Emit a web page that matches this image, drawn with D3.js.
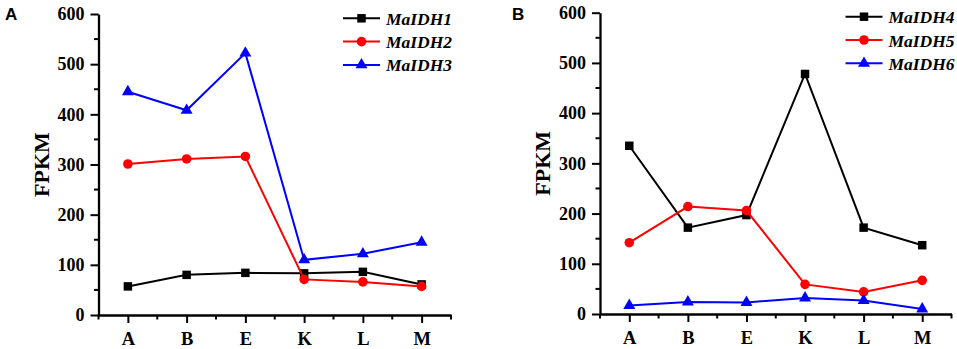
<!DOCTYPE html>
<html>
<head>
<meta charset="utf-8">
<script src="https://cdn.jsdelivr.net/npm/d3@7"></script>
<style>
  body { margin: 0; background: #fff; }
  svg { display: block; }
  text { font-family: "Liberation Serif", "Times New Roman", serif; font-weight: bold; }
</style>
</head>
<body>
<div id="chart"></div>
<script>
const categories = ["A", "B", "E", "K", "L", "M"];
const yTicks = [0, 100, 200, 300, 400, 500, 600];

// panel A
const maIDH1 = [57, 80, 84, 83, 86, 61];
const maIDH2 = [301, 311, 316, 71, 66, 57];
const maIDH3 = [445, 408, 522, 110, 122, 145];

// panel B
const maIDH4 = [335, 172, 197, 478, 172, 137];
const maIDH5 = [142, 214, 206, 59, 44, 67];
const maIDH6 = [17, 24, 23, 32, 27, 10];

const seriesStyle = [
  { color: "#000000", symbol: d3.symbolSquare, size: 72 },
  { color: "#ff0000", symbol: d3.symbolCircle, size: 72 },
  { color: "#0000ff", symbol: d3.symbolTriangle, size: 62 }
];

const serif = "'Liberation Serif', 'Times New Roman', serif";

const svg = d3.select("#chart").append("svg")
  .attr("width", 957)
  .attr("height", 349);

function styleText(sel, size) {
  sel.attr("font-size", size)
    .attr("font-family", serif)
    .style("font-family", serif)
    .style("font-weight", "bold");
}

function drawPanel(panel) {
  const { label, left, right, top, bottom, series, legendX, legendY } = panel;

  const x = d3.scaleLinear().domain([-0.5, categories.length - 0.5]).range([left, right]);
  const y = d3.scaleLinear().domain([0, 600]).range([bottom, top]);

  const g = svg.append("g");

  // minor ticks
  const xMinor = d3.range(-0.5, categories.length, 1);
  g.selectAll(".xminor").data(xMinor).enter().append("line")
    .attr("x1", d => x(d)).attr("x2", d => x(d))
    .attr("y1", bottom).attr("y2", bottom + 4.5)
    .attr("stroke", "#000").attr("stroke-width", 2);
  const yMinor = d3.range(50, 600, 100);
  g.selectAll(".yminor").data(yMinor).enter().append("line")
    .attr("x1", left).attr("x2", left - 4.5)
    .attr("y1", d => y(d)).attr("y2", d => y(d))
    .attr("stroke", "#000").attr("stroke-width", 2);

  // X axis
  const xAxis = g.append("g")
    .attr("transform", `translate(0,${bottom})`)
    .call(d3.axisBottom(x)
      .tickValues(d3.range(categories.length))
      .tickFormat(i => categories[i])
      .tickSize(8).tickPadding(9).tickSizeOuter(0))
    .attr("font-family", serif);
  xAxis.select(".domain").attr("stroke-width", 2.3);
  xAxis.selectAll(".tick line").attr("stroke-width", 2);
  styleText(xAxis.selectAll("text"), 18.5);

  // Y axis
  const yAxis = g.append("g")
    .attr("transform", `translate(${left},0)`)
    .call(d3.axisLeft(y).tickValues(yTicks).tickSize(8).tickPadding(6).tickSizeOuter(0))
    .attr("font-family", serif);
  yAxis.select(".domain").attr("stroke-width", 2.3);
  yAxis.selectAll(".tick line").attr("stroke-width", 2);
  styleText(yAxis.selectAll("text"), 18);

  // Y label
  g.append("text")
    .attr("transform", `translate(${left - 50},${(top + bottom) / 2}) rotate(-90)`)
    .attr("text-anchor", "middle")
    .attr("font-size", 22)
    .text("FPKM");

  // panel letter
  svg.append("text")
    .attr("x", panel.letterX).attr("y", 20)
    .style("font-family", "'Liberation Sans', Arial, sans-serif")
    .style("font-weight", "bold")
    .attr("font-size", 17)
    .text(label);

  const line = d3.line().x((d, i) => x(i)).y(d => y(d));

  series.forEach((s, k) => {
    const st = seriesStyle[k];
    g.append("path")
      .datum(s.values)
      .attr("fill", "none")
      .attr("stroke", st.color)
      .attr("stroke-width", 2)
      .attr("d", line);
    g.selectAll(".pt" + k).data(s.values).enter().append("path")
      .attr("transform", (d, i) => `translate(${x(i)},${y(d)})`)
      .attr("d", d3.symbol().type(st.symbol).size(st.size))
      .attr("fill", st.color);

    // legend
    const ly = legendY + k * 23.3;
    g.append("line")
      .attr("x1", legendX).attr("x2", legendX + 37)
      .attr("y1", ly).attr("y2", ly)
      .attr("stroke", st.color).attr("stroke-width", 2);
    g.append("path")
      .attr("transform", `translate(${legendX + 18.5},${ly})`)
      .attr("d", d3.symbol().type(st.symbol).size(st.size))
      .attr("fill", st.color);
    g.append("text")
      .attr("x", legendX + 43).attr("y", ly + 6.5)
      .attr("font-size", 17.5)
      .attr("font-style", "italic")
      .text(s.name);
  });
}

drawPanel({
  label: "A", letterX: 5,
  left: 98.5, right: 451, top: 14, bottom: 315,
  legendX: 343, legendY: 18.3,
  series: [
    { name: "MaIDH1", values: maIDH1 },
    { name: "MaIDH2", values: maIDH2 },
    { name: "MaIDH3", values: maIDH3 }
  ]
});

drawPanel({
  label: "B", letterX: 512,
  left: 600, right: 951.5, top: 12.7, bottom: 314,
  legendX: 845.5, legendY: 16.7,
  series: [
    { name: "MaIDH4", values: maIDH4 },
    { name: "MaIDH5", values: maIDH5 },
    { name: "MaIDH6", values: maIDH6 }
  ]
});
</script>
</body>
</html>
